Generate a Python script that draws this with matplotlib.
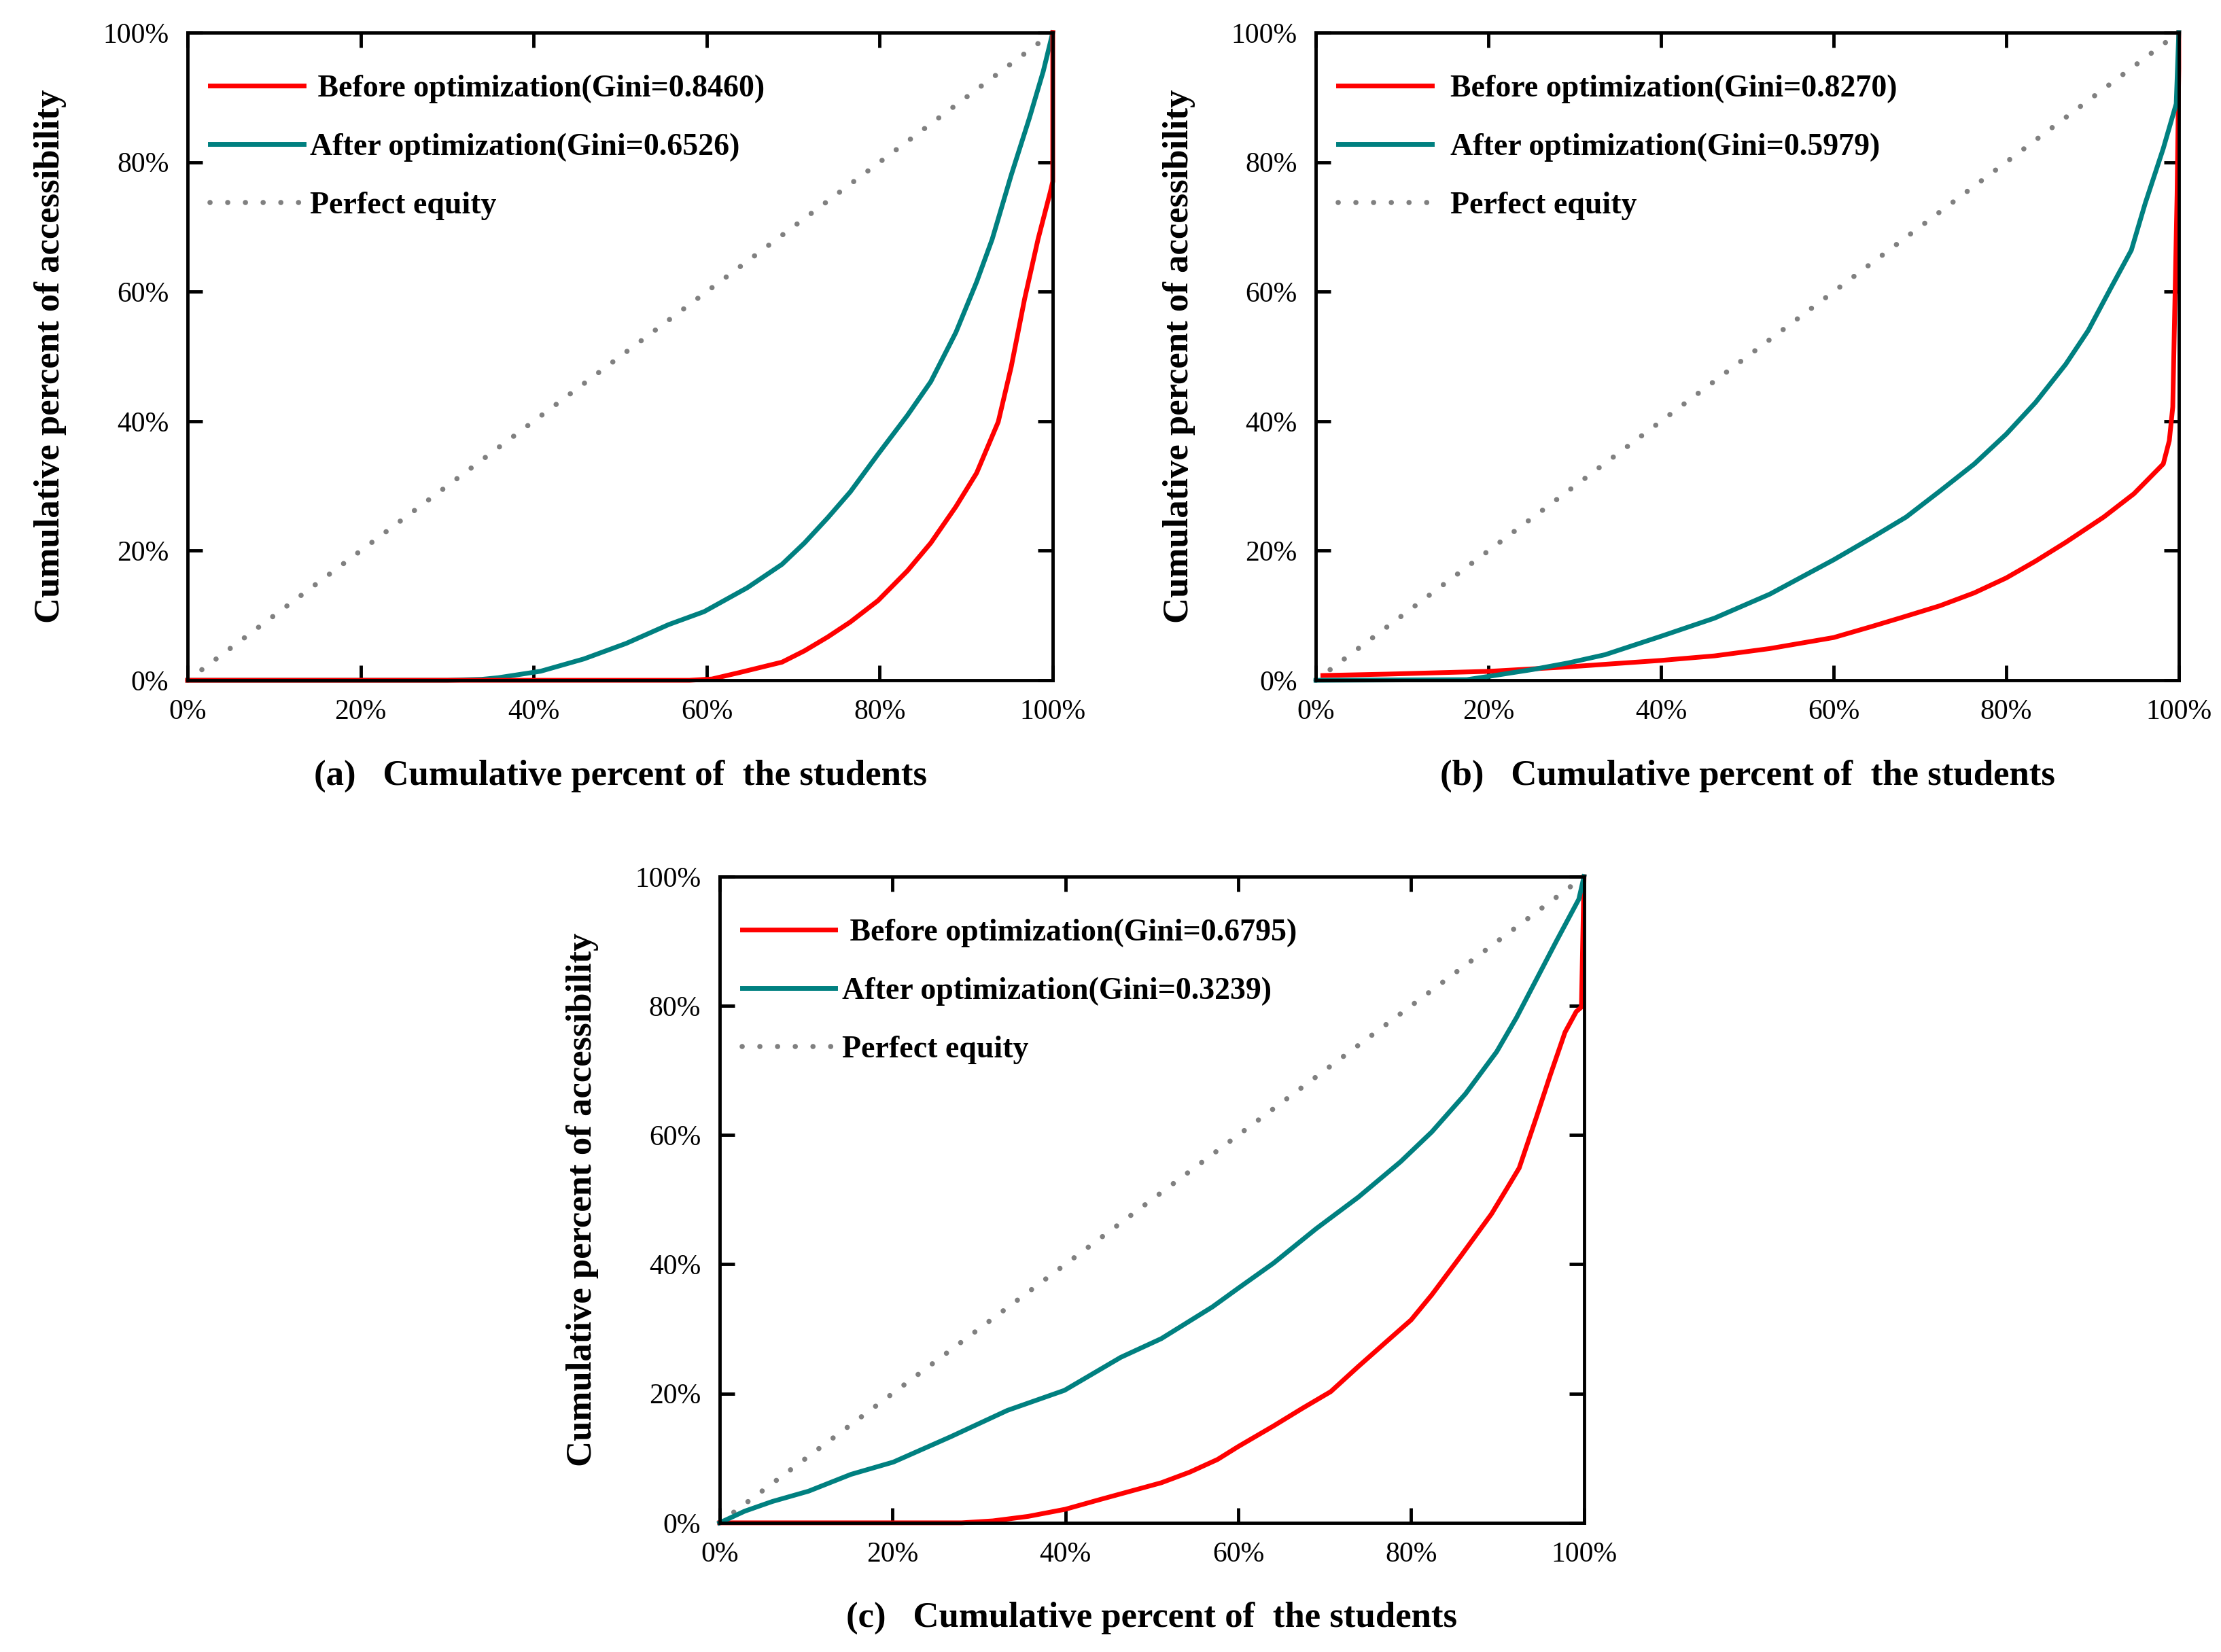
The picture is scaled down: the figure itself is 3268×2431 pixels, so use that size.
import matplotlib
matplotlib.use('Agg')
import matplotlib.pyplot as plt

plt.rcParams['font.family'] = 'Liberation Serif'

# ticks shared by all panels
pct_ticks = [0, 20, 40, 60, 80, 100]
pct_labels = ['0%', '20%', '40%', '60%', '80%', '100%']

# (a)
a_before_x = [0, 58, 60.6, 63.8, 68.7, 71.3, 74.0, 76.6, 79.8, 83.2, 85.9, 88.8, 91.2, 93.7, 95.2, 96.75, 98.3, 99.7, 100, 100]
a_before_y = [0, 0, 0.2, 1.2, 2.8, 4.55, 6.7, 9.0, 12.3, 16.9, 21.2, 26.8, 32.0, 39.9, 48.4, 58.9, 68.1, 75.3, 77.0, 100]
a_after_x = [0, 30, 34, 35.9, 40.8, 45.8, 50.7, 55.6, 59.7, 64.7, 68.7, 71.3, 74.0, 76.6, 79.8, 83.2, 85.9, 88.8, 91.2, 93.0, 95.2, 97.3, 98.9, 100]
a_after_y = [0, 0, 0.15, 0.4, 1.4, 3.3, 5.7, 8.6, 10.6, 14.3, 17.9, 21.2, 25.1, 29.1, 34.9, 40.9, 46.1, 53.7, 61.5, 68.1, 78.0, 86.8, 94.0, 100]

# (b)
b_before_x = [0.8, 8.1, 20, 29.3, 40, 46.2, 52.6, 60, 64.4, 67.9, 72.3, 76.3, 80, 83.4, 86.9, 91.3, 94.8, 98.2, 98.9, 99.3, 99.5, 99.8, 100, 100]
b_before_y = [0.74, 0.95, 1.38, 2.08, 3.07, 3.77, 4.9, 6.6, 8.3, 9.7, 11.5, 13.5, 15.8, 18.4, 21.3, 25.2, 28.8, 33.4, 37.0, 42.2, 55.3, 74.9, 94.5, 100]
b_after_x = [0, 17.5, 20, 25.1, 29.3, 33.5, 40, 46.2, 52.6, 60, 64.4, 68.4, 72.3, 76.3, 80, 83.4, 86.9, 89.5, 92.1, 94.5, 96.1, 98.2, 99.7, 100]
b_after_y = [0, 0.1, 0.6, 1.66, 2.7, 3.95, 6.8, 9.6, 13.3, 18.6, 22.0, 25.2, 29.2, 33.4, 38.0, 42.9, 48.8, 54.0, 60.5, 66.4, 73.6, 82.1, 89.0, 100]

# (c)
c_before_x = [0, 28, 31.6, 35.7, 40, 44, 48.1, 51.1, 54.4, 57.6, 60, 64.1, 67.4, 70.7, 73.9, 77.2, 80, 82.4, 85.7, 89.3, 91.2, 92.5, 94.5, 96.1, 97.8, 99.1, 99.7, 100]
c_before_y = [0, 0, 0.3, 1.0, 2.1, 3.6, 5.1, 6.2, 7.85, 9.8, 11.8, 15.0, 17.7, 20.3, 24.2, 28.1, 31.4, 35.3, 41.2, 47.8, 52.0, 54.9, 62.8, 69.3, 75.9, 79.1, 79.8, 100]
c_after_x = [0, 2.9, 6.1, 10.3, 15.2, 20.1, 26.7, 33.3, 39.9, 46.4, 51.1, 57.0, 60, 64.1, 69.0, 73.9, 78.8, 82.4, 86.3, 89.9, 92.2, 94.5, 96.8, 99.4, 100]
c_after_y = [0, 1.8, 3.3, 4.9, 7.5, 9.4, 13.3, 17.4, 20.5, 25.6, 28.5, 33.4, 36.3, 40.2, 45.5, 50.4, 55.9, 60.5, 66.4, 72.9, 78.2, 84.1, 90.0, 96.5, 100]

equity_xy = [0, 100]

gini_before = ['0.8460', '0.8270', '0.6795']
gini_after = ['0.6526', '0.5979', '0.3239']
panel_letters = ['(a)', '(b)', '(c)']


def draw_panel(ax, bx, by, ax_, ay, g_before, g_after, letter, red_on_top, before_prefix, text_pad):
    ax.plot(equity_xy, equity_xy, color='#808080', lw=5.5,
            linestyle=(0, (0.01, 3.4)), dash_capstyle='round',
            label='Perfect equity', zorder=2, clip_on=False)
    z_red = 4 if red_on_top else 3
    z_teal = 3 if red_on_top else 4
    ax.plot(bx, by, color='#FF0000', lw=5, zorder=z_red, clip_on=False,
            label=before_prefix + 'Before optimization(Gini=' + g_before + ')')
    ax.plot(ax_, ay, color='#008080', lw=5, zorder=z_teal, clip_on=False,
            label='After optimization(Gini=' + g_after + ')')

    ax.set_xlim(0, 100)
    ax.set_ylim(0, 100)
    ax.set_xticks(pct_ticks)
    ax.set_xticklabels(pct_labels)
    ax.set_yticks(pct_ticks)
    ax.set_yticklabels(pct_labels)
    ax.tick_params(direction='in', top=True, right=True, length=16, width=3.5,
                   labelsize=30, pad=20)
    for sp in ax.spines.values():
        sp.set_linewidth(3.5)
        sp.set_zorder(5)

    ax.set_xlabel(letter + '   Cumulative percent of  the students',
                  fontsize=38, fontweight='bold', va='top')
    ax.xaxis.set_label_coords(0.5, -0.122)
    ax.set_ylabel('Cumulative percent of accessibility', fontsize=38, fontweight='bold')
    ax.yaxis.set_label_coords(-0.14, 0.5)

    # legend order: before, after, equity
    h, l = ax.get_legend_handles_labels()
    leg = ax.legend([h[1], h[2], h[0]], [l[1], l[2], l[0]], loc='upper left',
                    bbox_to_anchor=(0.026, 0.935), frameon=False, borderpad=0,
                    borderaxespad=0, handlelength=3.0, handletextpad=text_pad,
                    labelspacing=0.95, prop={'size': 33, 'weight': 'bold'})
    return leg


fig = plt.figure(figsize=(32.68, 24.31), dpi=100)
ax_a = fig.add_axes([0.0845, 0.5882, 0.3895, 0.3921])
ax_b = fig.add_axes([0.5925, 0.5882, 0.3885, 0.3921])
ax_c = fig.add_axes([0.3240, 0.0782, 0.3892, 0.3912])

draw_panel(ax_a, a_before_x, a_before_y, a_after_x, a_after_y,
           gini_before[0], gini_after[0], panel_letters[0], True, ' ', 0.2)
draw_panel(ax_b, b_before_x, b_before_y, b_after_x, b_after_y,
           gini_before[1], gini_after[1], panel_letters[1], False, '', 0.6)
draw_panel(ax_c, c_before_x, c_before_y, c_after_x, c_after_y,
           gini_before[2], gini_after[2], panel_letters[2], False, ' ', 0.2)

fig.savefig('out.png', dpi=100)
